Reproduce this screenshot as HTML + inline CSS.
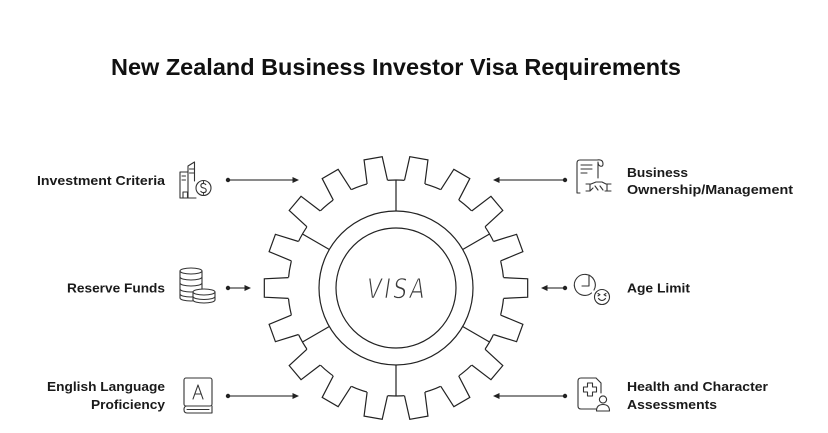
<!DOCTYPE html>
<html>
<head>
<meta charset="utf-8">
<style>
  html,body{margin:0;padding:0;background:#fff;}
  svg{display:block;}
  .lbl{font-family:"Liberation Sans",Arial,sans-serif;font-weight:bold;font-size:13px;fill:#1a1a1a;}
  .ic{fill:none;stroke:#333;stroke-width:1.1;stroke-linecap:round;stroke-linejoin:round;}
  .g{fill:none;stroke:#222;stroke-width:1.2;stroke-linejoin:miter;}
  .ar{stroke:#444;stroke-width:1.3;}
</style>
</head>
<body>
<svg width="828" height="433" viewBox="0 0 828 433" xmlns="http://www.w3.org/2000/svg">
  <rect width="828" height="433" fill="#fff"/>

  <!-- Title -->
  <text x="111" y="75" textLength="570" lengthAdjust="spacingAndGlyphs" font-family="Liberation Sans, Arial, sans-serif" font-weight="bold" font-size="23" fill="#111">New Zealand Business Investor Visa Requirements</text>

  <!-- Gear -->
  <defs>
    <g id="tooth">
      <path d="M501 277.3 L527.68 278.79 L527.68 297.21 L501 298.7 Z" fill="#fff" stroke="none"/>
      <path d="M503.5 277.65 L527.68 278.79 L527.68 297.21 L503.5 298.35" class="g"/>
    </g>
  </defs>
  <circle cx="396" cy="288" r="108" fill="#fff" stroke="#222" stroke-width="1.2"/>
  <use href="#tooth" transform="rotate(0 396 288)"/>
  <use href="#tooth" transform="rotate(20 396 288)"/>
  <use href="#tooth" transform="rotate(40 396 288)"/>
  <use href="#tooth" transform="rotate(60 396 288)"/>
  <use href="#tooth" transform="rotate(80 396 288)"/>
  <use href="#tooth" transform="rotate(100 396 288)"/>
  <use href="#tooth" transform="rotate(120 396 288)"/>
  <use href="#tooth" transform="rotate(140 396 288)"/>
  <use href="#tooth" transform="rotate(160 396 288)"/>
  <use href="#tooth" transform="rotate(180 396 288)"/>
  <use href="#tooth" transform="rotate(200 396 288)"/>
  <use href="#tooth" transform="rotate(220 396 288)"/>
  <use href="#tooth" transform="rotate(240 396 288)"/>
  <use href="#tooth" transform="rotate(260 396 288)"/>
  <use href="#tooth" transform="rotate(280 396 288)"/>
  <use href="#tooth" transform="rotate(300 396 288)"/>
  <use href="#tooth" transform="rotate(320 396 288)"/>
  <use href="#tooth" transform="rotate(340 396 288)"/>

  <!-- spokes -->
  <g class="g">
    <line x1="396" y1="180" x2="396" y2="211"/>
    <line x1="396" y1="365" x2="396" y2="396"/>
    <line x1="302.5" y1="234" x2="329.3" y2="249.5"/>
    <line x1="489.5" y1="234" x2="462.7" y2="249.5"/>
    <line x1="302.5" y1="342" x2="329.3" y2="326.5"/>
    <line x1="489.5" y1="342" x2="462.7" y2="326.5"/>
  </g>
  <circle cx="396" cy="288" r="77" class="g"/>
  <circle cx="396" cy="288" r="60" class="g"/>
  <text x="367" y="298" textLength="60" lengthAdjust="spacingAndGlyphs" font-family="DejaVu Sans, Liberation Sans, sans-serif" font-weight="200" font-style="italic" font-size="28" fill="#3a3a3a" stroke="#fff" stroke-width="1.1" letter-spacing="3">VISA</text>

  <!-- Arrows left -->
  <g fill="#222">
    <line class="ar" x1="228" y1="180" x2="294" y2="180"/>
    <circle cx="228" cy="180" r="2.2"/>
    <polygon points="299,180 292.5,177 292.5,183"/>

    <line class="ar" x1="228" y1="288" x2="246" y2="288"/>
    <circle cx="228" cy="288" r="2.2"/>
    <polygon points="251,288 244.5,285 244.5,291"/>

    <line class="ar" x1="228" y1="396" x2="294" y2="396"/>
    <circle cx="228" cy="396" r="2.2"/>
    <polygon points="299,396 292.5,393 292.5,399"/>

    <!-- Arrows right -->
    <line class="ar" x1="565" y1="180" x2="498" y2="180"/>
    <circle cx="565" cy="180" r="2.2"/>
    <polygon points="493,180 499.5,177 499.5,183"/>

    <line class="ar" x1="565" y1="288" x2="546" y2="288"/>
    <circle cx="565" cy="288" r="2.2"/>
    <polygon points="541,288 547.5,285 547.5,291"/>

    <line class="ar" x1="565" y1="396" x2="498" y2="396"/>
    <circle cx="565" cy="396" r="2.2"/>
    <polygon points="493,396 499.5,393 499.5,399"/>
  </g>

  <!-- Labels left -->
  <text class="lbl" x="37" y="185" textLength="128" lengthAdjust="spacingAndGlyphs">Investment Criteria</text>
  <text class="lbl" x="67" y="292.5" textLength="98" lengthAdjust="spacingAndGlyphs">Reserve Funds</text>
  <text class="lbl" x="47" y="391" textLength="118" lengthAdjust="spacingAndGlyphs">English Language</text>
  <text class="lbl" x="91" y="409" textLength="74" lengthAdjust="spacingAndGlyphs">Proficiency</text>

  <!-- Labels right -->
  <text class="lbl" x="627" y="177" textLength="61" lengthAdjust="spacingAndGlyphs">Business</text>
  <text class="lbl" x="627" y="194" textLength="166" lengthAdjust="spacingAndGlyphs">Ownership/Management</text>
  <text class="lbl" x="627" y="292.5" textLength="63" lengthAdjust="spacingAndGlyphs">Age Limit</text>
  <text class="lbl" x="627" y="391" textLength="141" lengthAdjust="spacingAndGlyphs">Health and Character</text>
  <text class="lbl" x="627" y="409" textLength="90" lengthAdjust="spacingAndGlyphs">Assessments</text>

  <!-- Icon: Investment (building + dollar) -->
  <g class="ic">
    <path d="M180 198 V172 H188"/>
    <path d="M188 198 V166 L194.5 162 V181"/>
    <path d="M180 198 H196"/>
    <path d="M182 176 H185.5 M182 180 H185.5"/>
    <path d="M189.5 169 H194 M189.5 173 H194"/>
    <path d="M183 198 V192 H187.5 V198"/>
    <circle cx="203.5" cy="188" r="7.5" fill="#fff"/>
    <path d="M205.8 184.6 Q204.8 183.4 203.4 183.4 Q200.9 183.4 200.9 185.6 Q200.9 187.4 203.5 187.9 Q206.2 188.5 206.2 190.4 Q206.2 192.6 203.5 192.6 Q201.8 192.6 200.8 191.3 M203.5 181.6 V183.4 M203.5 192.6 V194.4"/>
  </g>

  <!-- Icon: Coins -->
  <g class="ic">
    <path d="M180 271 V298 A11 3 0 0 0 202 298 V271"/>
    <ellipse cx="191" cy="271" rx="11" ry="3" fill="#fff"/>
    <path d="M180 277 A11 3 0 0 0 202 277"/>
    <path d="M180 283 A11 3 0 0 0 202 283"/>
    <path d="M180 289 A11 3 0 0 0 202 289"/>
    <path d="M180 294 A11 3 0 0 0 202 294"/>
    <path d="M193 292 V300 A11 3 0 0 0 215 300 V292 Z" fill="#fff" stroke="none"/>
    <path d="M193 292 V300 A11 3 0 0 0 215 300 V292"/>
    <ellipse cx="204" cy="292" rx="11" ry="3" fill="#fff"/>
    <path d="M193 296.5 A11 3 0 0 0 215 296.5"/>
  </g>

  <!-- Icon: Book -->
  <g class="ic">
    <rect x="184" y="378" width="28" height="28" rx="2" fill="#fff"/>
    <path d="M187 406 Q184 406 184 409.5 Q184 413 187 413 H212 V406"/>
    <path d="M187 409.5 H209"/>
    <path d="M193 399 L198 385 L203 399 M194.8 394 H201.2"/>
  </g>

  <!-- Icon: Business scroll + handshake -->
  <g class="ic">
    <path d="M597 160 H580 Q577 160 577 163 V193 H580"/>
    <path d="M597 160 Q603 159 603 164 Q603 167 600 166 Q598 165 598 162 V178"/>
    <path d="M581 165 H592 M581 169 H592 M581 173 H587"/>
    <path d="M586 184 H591 L596 182 L602 182 L606 184 H611 M586 191 H590 L593 188 M595 186 L598 190 M600 186 L603 190 M605 191 H611 M590 184 V191 M607 184 V191"/>
  </g>

  <!-- Icon: Age (clock + face) -->
  <g class="ic">
    <path d="M594 290 A10.5 10.5 0 1 0 591.5 293"/>
    <path d="M589 275 V286 H582"/>
    <circle cx="602" cy="297" r="7.5" fill="#fff"/>
    <path d="M598 293.5 L600 294.7 L598 295.9 M606 293.5 L604 294.7 L606 295.9"/>
    <path d="M598.5 298.5 Q602 302.5 605.5 298.5"/>
  </g>

  <!-- Icon: Health (document + cross + person) -->
  <g class="ic">
    <path d="M596 378 H581 Q578 378 578 381 V406 Q578 409 581 409 H596"/>
    <path d="M596 378 L601 383 V393"/>
    <path d="M587.5 383 H592.5 V387 H596.5 V392 H592.5 V396 H587.5 V392 H583.5 V387 H587.5 Z"/>
    <circle cx="603" cy="399.5" r="3.6" fill="#fff"/>
    <path d="M596.5 411 Q596.5 404.5 603 404.5 Q609.5 404.5 609.5 411 Z" fill="#fff"/>
  </g>
</svg>
</body>
</html>
